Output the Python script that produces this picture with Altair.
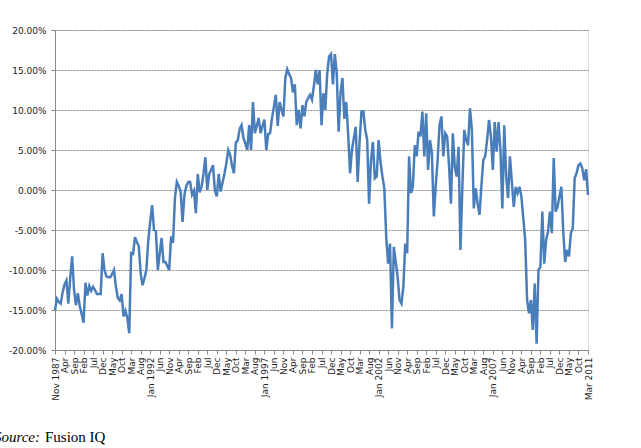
import altair as alt
import pandas as pd

# Monthly values (%), Nov 1987 .. Mar 2011 (281 months)
values = [
    -15.0, -13.6, -14.0, -14.2, -12.8, -11.8, -11.3, -14.2, -11.0, -8.3,
    -12.5, -14.4, -12.9, -14.5, -15.5, -16.6, -11.6, -13.2, -12.0, -12.6,
    -12.1, -12.5, -13.0, -13.0, -13.0, -7.9, -10.0, -10.8, -10.9, -10.9,
    -10.5, -10.0, -12.1, -13.5, -13.8, -13.0, -15.8, -15.1, -16.0, -17.9,
    -7.9, -8.0, -5.9, -6.5, -7.0, -10.4, -11.9, -11.0, -10.0, -6.3,
    -4.0, -1.9, -5.0, -5.1, -10.0, -8.0, -6.0, -9.0, -9.0, -9.5,
    -10.0, -5.8, -6.6, -1.0, 1.0, 0.5, -0.2, -4.0, -0.6, 0.5,
    1.0, 1.0, -0.6, -0.1, -2.9, 2.0, -0.3, 0.4, 2.0, 4.1,
    0.0, 2.0, 2.5, 3.1, -0.1, -0.8, 2.0, -0.2, 0.9, 2.0,
    3.3, 5.0, 4.4, 3.0, 2.1, 5.9, 6.2, 7.6, 8.1, 6.5,
    5.8, 5.0, 8.1, 5.0, 11.0, 7.1, 8.0, 9.0, 7.1, 8.0,
    8.8, 5.0, 7.0, 7.1, 9.0, 10.4, 11.9, 8.0, 11.0, 10.0,
    9.2, 14.0, 15.1, 14.5, 14.0, 12.2, 13.2, 8.1, 10.0, 7.7,
    10.6, 9.2, 11.0, 11.5, 11.9, 11.3, 13.0, 15.0, 13.2, 15.0,
    8.1, 12.1, 10.0, 14.6, 16.7, 17.0, 13.2, 17.0, 14.6, 7.3,
    12.2, 14.0, 8.9, 11.0, 7.0, 2.1, 5.0, 6.5, 7.9, 1.0,
    6.0, 9.8, 9.8, 7.5, 6.3, -1.7, 3.75, 6.0, 1.45, 1.7,
    6.25, 3.5, 1.7, 0.2, -5.9, -9.2, -6.7, -17.3, -7.1, -9.0,
    -10.9, -13.75, -14.2, -12.1, -6.7, -7.9, 4.2, -0.4, 0.4, 5.6,
    4.2, 7.3, 6.7, 9.8, 4.2, 9.6, 2.5, 6.25, 4.6, -3.3,
    0.5, 3.75, 8.1, 9.2, 4.2, 7.1, 6.7, 3.0, -1.7, 7.1,
    2.9, 1.7, 5.4, -7.5, 0.4, 7.5, 6.25, 5.6, 10.2, 7.5,
    -2.3, 0.2, -1.7, -3.1, 0.5, 3.75, 4.2, 6.25, 8.75, 6.7,
    2.5, 8.5, 4.8, 8.5, 5.0, -2.3, 8.1, 1.7, -1.0, 4.2,
    1.0, -2.1, 0.4, -0.4, 0.4, -0.8, -3.5, -6.25, -13.75, -15.4,
    -13.75, -17.5, -11.7, -19.2, -10.0, -9.6, -2.7, -9.2, -6.25, -5.2,
    -2.7, -5.4, 4.0, -2.7, -2.1, -0.8, 0.4, -5.2, -9.0, -7.5,
    -8.3, -5.4, -4.8, 1.5, 2.1, 3.1, 3.3, 2.7, 1.2, 2.6,
    -0.6,
]
months = list(range(len(values)))

# Tick labels, one every 5 months
tick_labels = [
    "Nov 1987", "Apr", "Sep", "Feb", "Jul", "Dec", "May", "Oct", "Mar", "Aug",
    "Jan 1992", "Jun", "Nov", "Apr", "Sep", "Feb", "Jul", "Dec", "May", "Oct",
    "Mar", "Aug", "Jan 1997", "Jun", "Nov", "Apr", "Sep", "Feb", "Jul", "Dec",
    "May", "Oct", "Mar", "Aug", "Jan 2002", "Jun", "Nov", "Apr", "Sep", "Feb",
    "Jul", "Dec", "May", "Oct", "Mar", "Aug", "Jan 2007", "Jun", "Nov", "Apr",
    "Sep", "Feb", "Jul", "Dec", "May", "Oct", "Mar 2011",
]
tick_positions = [5 * k for k in range(len(tick_labels))]
y_ticks = [-20, -15, -10, -5, 0, 5, 10, 15, 20]

source_label = "Source:"
source_name = "Fusion IQ"

df = pd.DataFrame({"m": months, "v": values})

label_arr = "[" + ",".join("'" + s + "'" for s in tick_labels) + "]"

x_axis = alt.Axis(
    values=tick_positions,
    labelExpr=label_arr + "[round(datum.value/5)]",
    labelAngle=-90,
    labelAlign="right",
    labelBaseline="middle",
    labelFont="DejaVu Sans",
    labelFontSize=9,
    labelColor="#222",
    labelPadding=3,
    labelOverlap=False,
    tickColor="#888",
    tickSize=4,
    domainColor="#888",
    grid=False,
    title=None,
)
y_axis = alt.Axis(
    values=y_ticks,
    labelExpr="replace(format(datum.value, '.2f'), '\u2212', '-') + '%'",
    labelFont="DejaVu Sans",
    labelFontSize=9,
    labelColor="#222",
    labelPadding=5,
    tickColor="#888",
    tickSize=4,
    domainColor="#888",
    gridColor="#8a8a8a",
    gridDash=[2, 1],
    gridWidth=1,
    title=None,
)

line = alt.Chart(df).mark_line(color="#4a7ebb", strokeWidth=2.5).encode(
    x=alt.X("m:Q", scale=alt.Scale(domain=[0, 280], nice=False, zero=False), axis=x_axis),
    y=alt.Y("v:Q", scale=alt.Scale(domain=[-20, 20], nice=False), axis=y_axis),
)

src1 = alt.Chart(pd.DataFrame({"t": [source_label]})).mark_text(
    align="right", baseline="middle", font="Liberation Serif", fontStyle="italic",
    fontSize=15, color="#000"
).encode(text="t:N", x=alt.value(-15), y=alt.value(407))

src2 = alt.Chart(pd.DataFrame({"t": [source_name]})).mark_text(
    align="left", baseline="middle", font="Liberation Serif",
    fontSize=15, color="#000"
).encode(text="t:N", x=alt.value(-10), y=alt.value(407))

chart = alt.layer(line, src1, src2).properties(
    width=533,
    height=320,
    autosize=alt.AutoSizeParams(type="none"),
    padding={"left": 55, "top": 30, "right": 53, "bottom": 98},
).configure_view(stroke=None).configure(background="white")

chart.save("out.html", embed_options={"renderer": "svg", "actions": False})
